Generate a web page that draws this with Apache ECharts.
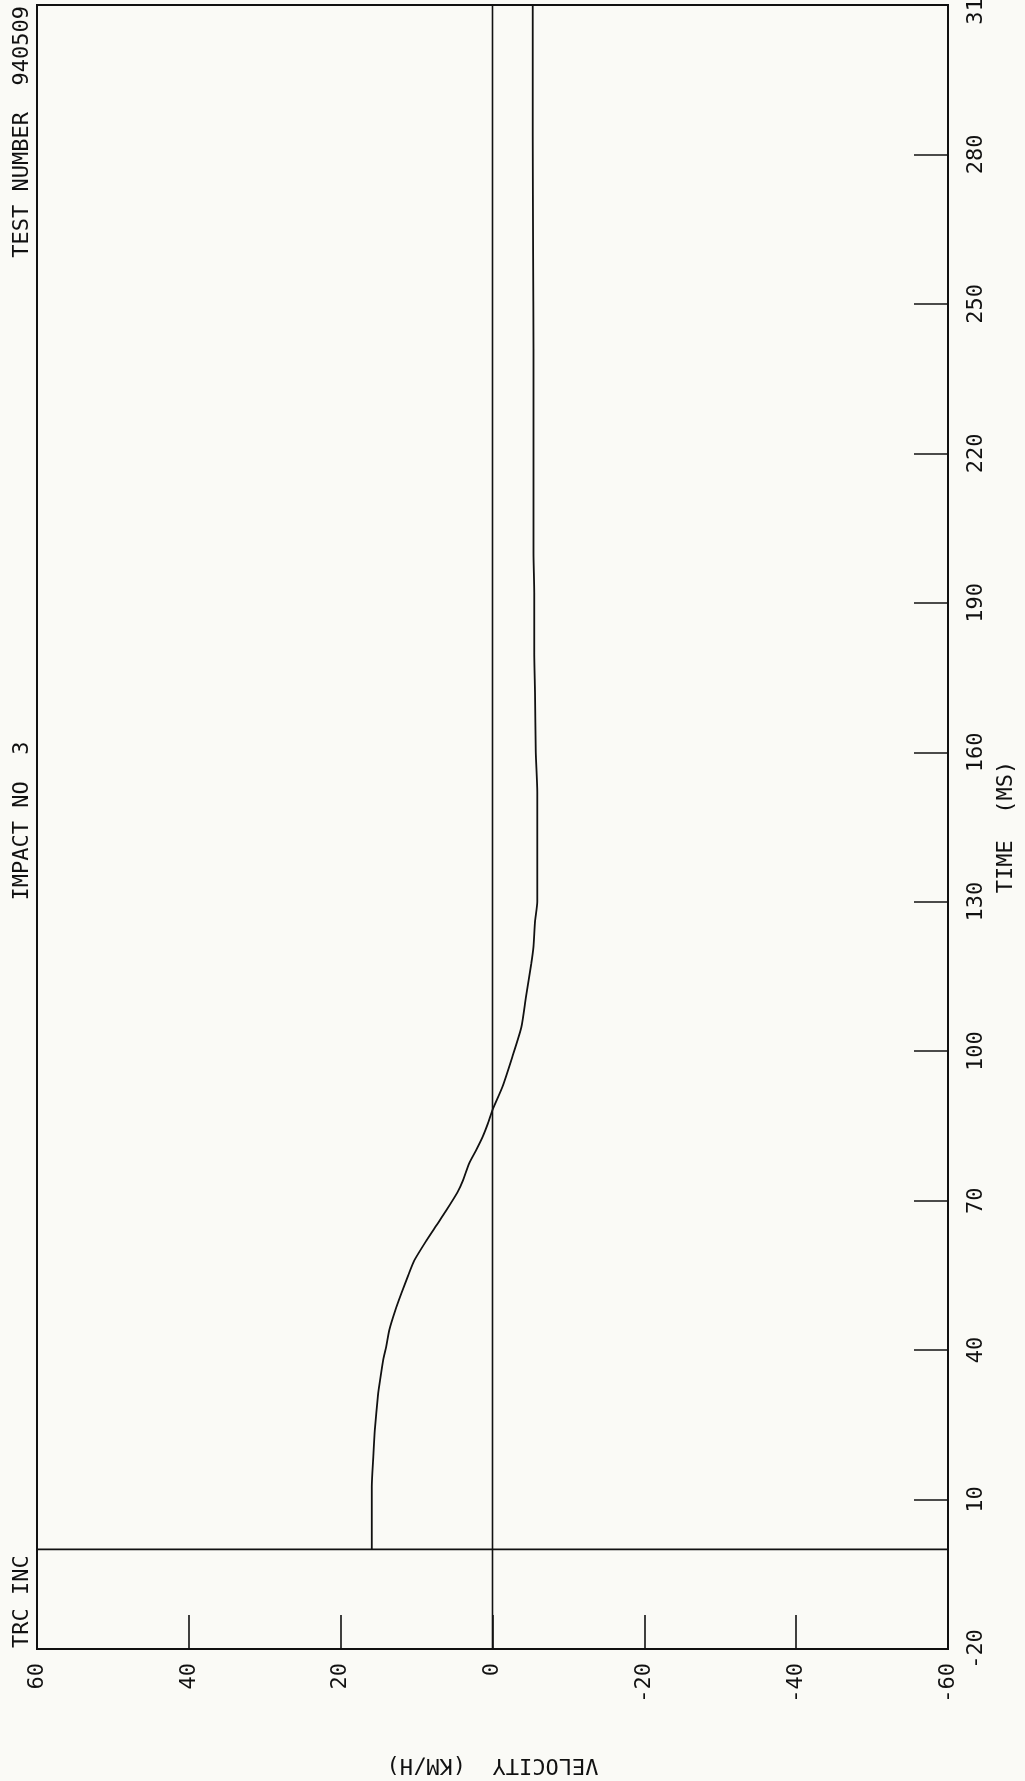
<!DOCTYPE html>
<html>
<head>
<meta charset="utf-8">
<script src="https://cdn.jsdelivr.net/npm/echarts@6/dist/echarts.min.js"></script>
<style>
html,body{margin:0;padding:0;background:#fafaf6;}
#chart{width:1025px;height:1781px;}
</style>
</head>
<body>
<div id="chart"></div>
<script>
// Time (ms) and velocity (km/h)
const timeMs = [0, 5, 10, 12.6, 18.6, 24, 30.7, 32, 38, 40.7, 44, 48, 51.4, 55, 58, 62, 65, 68, 71.7, 74, 77.4, 80, 82.8, 85.5, 88.2, 92.8, 98.8, 104.8, 110.8, 117.5, 121, 126, 130, 152, 160, 172, 180, 192, 200, 223, 241, 260, 284, 310];
const velocityKmh = [15.9, 15.9, 15.9, 15.9, 15.7, 15.5, 15.1, 15.0, 14.4, 14.0, 13.6, 12.8, 12.0, 11.1, 10.3, 8.7, 7.4, 6.1, 4.6, 3.9, 3.1, 2.2, 1.3, 0.6, 0, -1.3, -2.6, -3.8, -4.4, -5.1, -5.4, -5.6, -5.9, -5.9, -5.7, -5.6, -5.5, -5.5, -5.4, -5.4, -5.4, -5.35, -5.3, -5.3];
const velocityTicks = [60, 40, 20, 0, -20, -40, -60];
const timeTicks = [-20, 10, 40, 70, 100, 130, 160, 190, 220, 250, 280, 310];
const titleLeft = 'TRC INC';
const titleMid = 'IMPACT NO  3';
const titleRight = 'TEST NUMBER  940509';
const xName = 'VELOCITY  (KM/H)';
const yName = 'TIME  (MS)';

const FONT = '"DejaVu Sans Mono", "Liberation Mono", monospace';
const INK = '#111111';

const tMin = timeTicks[0];
const tMax = timeTicks[timeTicks.length - 1];
const vMin = velocityTicks[velocityTicks.length - 1];
const vMax = velocityTicks[0];

const chart = echarts.init(document.getElementById('chart'), null, {renderer: 'canvas'});
const seriesData = timeMs.map((t, i) => [velocityKmh[i], t]);

chart.setOption({
  backgroundColor: '#fafaf6',
  animation: false,
  grid: {
    left: 37, right: 77, top: 5, bottom: 132,
    outerBoundsMode: 'none',
    containLabel: false,
    show: true, borderColor: INK, borderWidth: 2, backgroundColor: 'transparent'
  },
  xAxis: {
    type: 'value',
    inverse: true,
    min: vMin,
    max: vMax,
    interval: 20,
    position: 'bottom',
    axisLine: {show: true, onZero: false, lineStyle: {color: INK, width: 2}},
    axisTick: {show: true, inside: true, length: 34, lineStyle: {color: INK, width: 1.6}},
    splitLine: {show: false},
    axisLabel: {
      rotate: 90, margin: 14, color: INK, fontFamily: FONT, fontSize: 22,
      showMinLabel: true, showMaxLabel: true
    },
    name: xName,
    nameLocation: 'middle',
    nameRotate: 180,
    nameGap: 105,
    nameTextStyle: {color: INK, fontFamily: FONT, fontSize: 22}
  },
  yAxis: {
    type: 'value',
    min: tMin,
    max: tMax,
    interval: 30,
    position: 'right',
    axisLine: {show: true, onZero: false, lineStyle: {color: INK, width: 2}},
    axisTick: {show: true, inside: true, length: 34, lineStyle: {color: INK, width: 1.6}},
    splitLine: {show: false},
    axisLabel: {
      rotate: 90, margin: 17, color: INK, fontFamily: FONT, fontSize: 22,
      showMinLabel: true, showMaxLabel: true
    },
    name: yName,
    nameLocation: 'middle',
    nameRotate: 90,
    nameGap: 45,
    nameTextStyle: {color: INK, fontFamily: FONT, fontSize: 22}
  },
  series: [
    {
      name: 'zeroVelocity',
      type: 'line',
      silent: true,
      showSymbol: false,
      data: [[0, tMin], [0, tMax]],
      lineStyle: {color: INK, width: 1.6},
      z: 1
    },
    {
      name: 'zeroTime',
      type: 'line',
      silent: true,
      showSymbol: false,
      data: [[vMax, 0], [vMin, 0]],
      lineStyle: {color: INK, width: 1.6},
      z: 1
    },
    {
      name: 'velocity',
      type: 'line',
      data: seriesData,
      showSymbol: false,
      smooth: 0.2,
      lineStyle: {color: INK, width: 1.8},
      z: 2
    }
  ],
  graphic: [
    {type: 'text', x: 22, y: 1648, rotation: Math.PI / 2,
     style: {text: titleLeft, fill: INK, font: '22px ' + FONT, align: 'left', verticalAlign: 'middle'}},
    {type: 'text', x: 22, y: 821, rotation: Math.PI / 2,
     style: {text: titleMid, fill: INK, font: '22px ' + FONT, align: 'center', verticalAlign: 'middle'}},
    {type: 'text', x: 22, y: 6, rotation: Math.PI / 2,
     style: {text: titleRight, fill: INK, font: '22px ' + FONT, align: 'right', verticalAlign: 'middle'}}
  ]
});
</script>
</body>
</html>
